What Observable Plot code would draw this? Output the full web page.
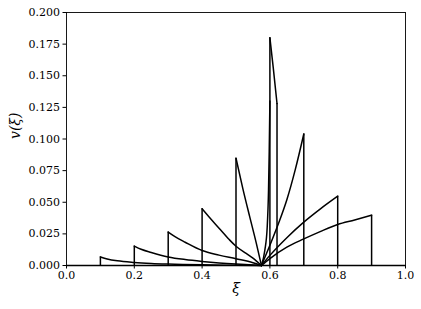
<!DOCTYPE html>
<html>
<head>
<meta charset="utf-8">
<script src="https://cdn.jsdelivr.net/npm/d3@7"></script>
<script src="https://cdn.jsdelivr.net/npm/@observablehq/plot@0.6"></script>
<style>
  html, body { margin: 0; padding: 0; background: #fff; }
  svg { display: block; }
</style>
</head>
<body>
<div id="chart"></div>
<script>
// Wall speeds and the read-off height of the jump at each wall / shock
const jumpXi  = [0.1, 0.2, 0.3, 0.4, 0.5, 0.6, 0.621, 0.7, 0.8, 0.9];
const jumpTop = [0.0068, 0.0153, 0.0264, 0.0448, 0.0848, 0.180, 0.128, 0.104, 0.0548, 0.0398];

// Smooth parts of the profiles v(xi)
const xi_01 = [0.1, 0.12, 0.15, 0.2, 0.25, 0.3, 0.4, 0.5, 0.575];
const v_01  = [0.0068, 0.0052, 0.0037, 0.0024, 0.0016, 0.0011, 0.0005, 0.0002, 0];

const xi_02 = [0.2, 0.22, 0.25, 0.3, 0.35, 0.4, 0.45, 0.5, 0.55, 0.575];
const v_02  = [0.0153, 0.0128, 0.0103, 0.0068, 0.0047, 0.0032, 0.0020, 0.0011, 0.0004, 0];

const xi_03 = [0.3, 0.32, 0.35, 0.4, 0.45, 0.5, 0.55, 0.575];
const v_03  = [0.0264, 0.0228, 0.0184, 0.0118, 0.0082, 0.0053, 0.0022, 0];

const xi_04 = [0.4, 0.42, 0.45, 0.48, 0.5, 0.53, 0.55, 0.575];
const v_04  = [0.0448, 0.0385, 0.0295, 0.0205, 0.0152, 0.0095, 0.0058, 0];

const xi_05 = [0.5, 0.52, 0.54, 0.56, 0.575];
const v_05  = [0.0848, 0.0610, 0.0390, 0.0175, 0];

const xi_06 = [0.6, 0.61, 0.621];
const v_06  = [0.180, 0.156, 0.128];

const xi_06r = [0.575, 0.585, 0.592, 0.596, 0.598, 0.6];
const v_06r  = [0, 0.012, 0.030, 0.060, 0.090, 0.130];

const xi_07 = [0.575, 0.6, 0.625, 0.65, 0.675, 0.7];
const v_07  = [0, 0.016, 0.033, 0.052, 0.076, 0.104];

const xi_08 = [0.575, 0.6, 0.65, 0.7, 0.75, 0.8];
const v_08  = [0, 0.008, 0.022, 0.0343, 0.045, 0.0548];

const xi_09 = [0.575, 0.6, 0.65, 0.7, 0.75, 0.8, 0.85, 0.9];
const v_09  = [0, 0.0055, 0.0145, 0.021, 0.027, 0.0324, 0.036, 0.0398];

const xTicks = [0, 0.2, 0.4, 0.6, 0.8, 1.0];
const yTicks = [0, 0.025, 0.05, 0.075, 0.1, 0.125, 0.15, 0.175, 0.2];

const series = [
  ["0.1", xi_01, v_01], ["0.2", xi_02, v_02], ["0.3", xi_03, v_03],
  ["0.4", xi_04, v_04], ["0.5", xi_05, v_05], ["0.6", xi_06, v_06],
  ["0.6r", xi_06r, v_06r], ["0.7", xi_07, v_07], ["0.8", xi_08, v_08],
  ["0.9", xi_09, v_09]
];
const rows = series.flatMap(([id, xs, vs]) => xs.map((x, i) => ({id, xi: x, v: vs[i]})));
const jumps = jumpXi.map((x, i) => ({xi: x, top: jumpTop[i]}));

const serif = "DejaVu Serif";

const chart = Plot.plot({
  width: 421,
  height: 309,
  marginLeft: 66,
  marginRight: 16,
  marginTop: 12,
  marginBottom: 44,
  style: {fontFamily: serif, fontSize: "11px", color: "#000", background: "#fff"},
  x: {domain: [0, 1]},
  y: {domain: [0, 0.2]},
  marks: [
    Plot.line(rows, {x: "xi", y: "v", z: "id", curve: "monotone-x", stroke: "#000", strokeWidth: 1.5}),
    Plot.ruleX(jumps, {x: "xi", y1: 0, y2: "top", stroke: "#000", strokeWidth: 1.5}),
    Plot.ruleY([0], {stroke: "#000", strokeWidth: 1.5}),
    Plot.frame({stroke: "#000", strokeWidth: 0.9}),
    Plot.axisX({ticks: xTicks, tickFormat: d3.format(".1f"), tickSize: 3.5, tickPadding: 2.5, label: null, stroke: "#000", fontFamily: serif, fontSize: 11}),
    Plot.axisY({ticks: yTicks, tickFormat: d3.format(".3f"), tickSize: 3.5, tickPadding: 3, label: null, stroke: "#000", fontFamily: serif, fontSize: 11}),
    Plot.text(["ξ"], {frameAnchor: "bottom", dy: 27, text: d => d, fontStyle: "italic", fontSize: 14, fontFamily: serif}),
    Plot.text(["v(ξ)"], {frameAnchor: "left", dx: -51, rotate: -90, text: d => d, fontStyle: "italic", fontSize: 14, fontFamily: serif})
  ]
});
document.getElementById("chart").appendChild(chart);
</script>
</body>
</html>
